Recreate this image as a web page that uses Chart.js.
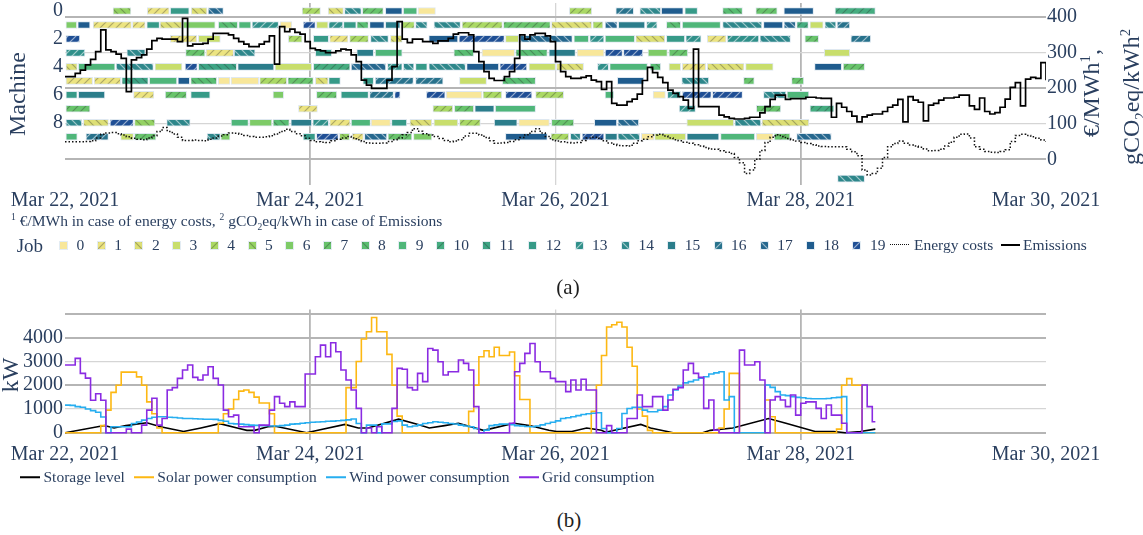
<!DOCTYPE html>
<html>
<head>
<meta charset="utf-8">
<title>Machine schedule, energy costs and power consumption</title>
<script src="https://cdn.jsdelivr.net/npm/chart.js@4.4.1/dist/chart.umd.min.js"></script>
<style>
  html, body { margin: 0; padding: 0; background: #ffffff; }
  body { position: relative; width: 1143px; height: 535px; overflow: hidden;
         font-family: "Liberation Serif", "Times New Roman", serif; color: #2a3f5f; }
  canvas { position: absolute; left: 0; display: block; }
  #chartA { top: 0; }
  #chartB { top: 300px; }
  .t { position: absolute; white-space: nowrap; line-height: 1; }
  .mid { transform: translateY(-50%); }
  .ctr { transform: translate(-50%, -50%); }
  .rot { transform: translate(-50%, -50%) rotate(-90deg); font-size: 24px; }
  sup, sub { font-size: 62%; line-height: 0; }
  .cap { color: #1e1e1e; font-size: 21px; }
  #legendB { position: absolute; left: 20px; top: 477px; transform: translateY(-50%);
             display: flex; align-items: center; font-size: 15.5px; white-space: nowrap; line-height: 1; }
  #legendB .item { display: flex; align-items: center; margin-right: 9px; }
  #legendB .swl { width: 20px; height: 0; border-top: 2px solid; margin-right: 3.5px; }
</style>
</head>
<body>
<canvas id="chartA" width="1143" height="212"></canvas>
<canvas id="chartB" width="1143" height="170"></canvas>

<div class="t rot" style="left:1091px; top:93px;">€/MWh<sup>1</sup>,</div>
<div class="t rot" style="left:1131px; top:97px;">gCO<sub>2</sub>eq/kWh<sup>2</sup></div>
<div class="t mid" style="left:11px; top:221px; font-size:15.5px;"><sup>1</sup> €/MWh in case of energy costs, <sup>2</sup> gCO<sub>2</sub>eq/kWh in case of Emissions</div>
<div id="legendA"></div>
<div class="t ctr cap" style="left:568px; top:287px;">(a)</div>
<div id="legendB"></div>
<div class="t ctr cap" style="left:569px; top:520px;">(b)</div>

<script>
// ---------------- data ----------------
// x values are hours after Mar 22, 2021 00:00
const dayTicks = [0, 48, 96, 144, 192];
const dayLabels = ['Mar 22, 2021', 'Mar 24, 2021', 'Mar 26, 2021', 'Mar 28, 2021', 'Mar 30, 2021'];
const machineTicks = [0, 2, 4, 6, 8];
const priceTicks = [0, 100, 200, 300, 400];
const powerTicks = [0, 1000, 2000, 3000, 4000, 5000];
const jobNames = ['0','1','2','3','4','5','6','7','8','9','10','11','12','13','14','15','16','17','18','19'];
const seriesNames = ['Storage level', 'Solar power consumption', 'Wind power consumption', 'Grid consumption'];

// [machine, job, start hour, end hour]
const schedule = [
  [0,5,9.4,12.9],[0,1,16.1,20.4],[0,12,20.6,24.3],[0,2,24.7,27.8],[0,17,28.0,31.0],[0,4,46.4,50.0],
  [0,2,51.5,54.5],[0,14,54.7,58.0],[0,7,58.2,62.3],[0,18,62.7,66.0],[0,9,66.2,68.9],[0,0,69.1,72.5],
  [0,4,98.7,103.1],[0,16,107.8,111.3],[0,14,112.5,116.6],[0,18,116.7,121.0],[0,12,121.3,123.8],
  [0,8,128.7,132.6],[0,7,135.2,139.4],[0,18,140.7,146.5],[0,10,150.7,158.6],

  [1,6,0,2.3],[1,18,2.5,4.9],[1,1,5.5,13.0],[1,1,13.2,15.7],[1,12,16.0,18.5],[1,2,18.6,22.9],
  [1,6,23.1,29.4],[1,8,30.0,33.8],[1,9,34.0,36.4],[1,13,36.6,41.8],[1,0,42.1,44.4],[1,19,46.6,49.0],
  [1,3,49.2,51.5],[1,13,51.6,54.4],[1,12,54.5,57.0],[1,8,57.1,59.4],[1,18,59.6,62.5],[1,15,62.7,65.6],
  [1,4,65.8,68.4],[1,14,68.6,70.9],[1,14,72.2,77.4],[1,4,77.7,85.6],[1,7,85.8,95.0],[1,2,95.2,103.1],
  [1,4,103.3,105.3],[1,17,105.7,108.1],[1,15,108.3,113.5],[1,13,113.8,115.9],[1,8,117.7,120.5],
  [1,9,120.8,128.3],[1,14,128.7,136.4],[1,18,136.7,140.5],[1,17,140.7,143.0],[1,10,143.2,145.5],
  [1,3,145.8,148.4],[1,14,148.7,150.9],[1,16,151.1,153.6],

  [2,19,0,2.9],[2,1,20.6,25.8],[2,3,26.1,30.4],[2,4,43.7,46.4],[2,12,48.6,51.6],[2,1,51.8,55.4],
  [2,4,55.7,59.4],[2,14,59.8,63.3],[2,2,63.7,66.0],[2,18,71.2,76.9],[2,19,77.1,86.0],[2,3,86.2,88.8],
  [2,17,89.0,99.3],[2,9,99.6,102.5],[2,13,102.7,105.5],[2,9,105.7,111.5],[2,2,111.7,117.4],
  [2,12,117.7,121.3],[2,13,121.5,124.5],[2,1,125.7,129.4],[2,13,129.6,135.8],[2,14,136.0,142.0],
  [2,7,144.8,147.5],[2,16,153.8,157.7],

  [3,13,0,3.9],[3,14,12.1,15.7],[3,7,23.6,27.4],[3,1,27.6,33.0],[3,14,33.1,37.2],[3,12,49.0,52.2],
  [3,15,57.1,60.4],[3,9,60.7,66.0],[3,8,76.1,80.0],[3,0,81.6,88.0],[3,8,88.2,94.4],[3,15,94.7,99.9],
  [3,0,100.2,105.5],[3,19,105.7,109.1],[3,19,109.3,113.1],[3,6,114.1,117.9],[3,7,118.2,121.9],
  [3,3,148.6,153.6],

  [4,2,0,2.4],[4,9,2.6,9.8],[4,14,10.0,17.3],[4,3,17.6,22.9],[4,19,23.5,25.9],[4,11,26.1,33.6],
  [4,15,33.8,40.9],[4,3,41.1,48.3],[4,10,48.6,55.8],[4,17,56.0,62.8],[4,13,63.1,66.0],[4,14,66.2,68.3],
  [4,12,68.6,70.9],[4,14,71.2,78.4],[4,18,78.6,84.9],[4,19,85.1,90.4],[4,3,90.8,96.0],[4,2,96.2,101.5],
  [4,13,104.2,106.4],[4,9,106.6,114.0],[4,8,114.5,116.6],[4,3,118.2,120.5],[4,1,120.8,125.4],
  [4,2,125.7,132.9],[4,3,133.2,138.6],[4,18,146.7,152.0],[4,7,152.3,156.5],

  [5,1,0,5.4],[5,1,5.7,10.9],[5,11,11.1,16.3],[5,9,16.5,21.9],[5,18,22.1,24.4],[5,8,24.6,29.7],
  [5,0,30.0,32.3],[5,0,32.5,37.9],[5,4,38.1,43.4],[5,7,43.6,48.6],[5,2,49.0,51.5],[5,12,51.6,53.9],
  [5,12,58.3,60.4],[5,16,60.7,68.2],[5,16,68.6,74.0],[5,3,77.2,82.5],[5,8,85.6,92.1],[5,18,108.1,113.3],
  [5,14,120.7,126.0],[5,7,132.8,134.9],[5,7,142.2,144.6],

  [6,12,0,2.4],[6,15,2.6,7.8],[6,1,13.4,17.4],[6,7,19.6,23.8],[6,12,24.6,28.4],[6,6,40.7,42.8],
  [6,7,49.2,53.2],[6,12,54.0,59.4],[6,16,59.6,64.3],[6,19,64.5,65.6],[6,19,70.7,74.4],[6,0,74.6,81.6],
  [6,4,81.8,85.5],[6,19,86.2,91.4],[6,4,92.1,97.6],[6,9,105.7,107.4],[6,0,115.1,117.5],[6,13,117.9,120.5],
  [6,19,120.8,126.5],[6,19,126.7,132.6],[6,14,136.7,141.1],[6,9,141.3,145.6],

  [7,7,0,4.9],[7,1,45.7,49.4],[7,4,72.0,75.9],[7,7,76.2,80.0],[7,15,80.2,84.0],[7,9,84.2,92.1],
  [7,13,120.2,123.4],[7,7,135.3,140.1],[7,10,145.8,150.5],

  [8,14,0,3.3],[8,2,3.6,8.5],[8,19,8.8,13.4],[8,5,13.6,17.6],[8,14,19.9,24.5],[8,9,32.5,35.9],
  [8,6,36.1,40.5],[8,8,40.7,43.9],[8,15,44.2,48.3],[8,13,48.5,51.6],[8,1,51.8,55.8],[8,9,56.0,59.8],
  [8,0,59.9,63.7],[8,12,63.9,66.9],[8,2,67.5,71.8],[8,3,72.2,76.9],[8,4,77.2,81.3],[8,15,84.0,88.5],
  [8,0,88.8,94.8],[8,7,95.2,99.6],[8,18,103.6,108.0],[8,17,108.2,112.3],[8,3,121.7,130.9],
  [8,14,131.1,136.2],[8,2,136.4,145.6],

  [9,9,0,2.4],[9,16,4.1,8.5],[9,3,10.9,13.4],[9,7,13.6,17.8],[9,14,27.8,30.4],[9,6,30.5,32.3],
  [9,12,46.6,49.0],[9,19,49.2,53.5],[9,5,53.7,55.7],[9,1,56.2,58.4],[9,17,58.6,63.0],[9,7,63.2,67.9],
  [9,6,68.2,71.8],[9,18,86.2,94.4],[9,4,95.1,98.6],[9,14,98.9,100.9],[9,19,101.2,105.5],
  [9,15,105.7,108.1],[9,14,108.2,112.5],[9,0,112.8,115.3],[9,3,115.4,121.5],[9,15,121.7,128.0],
  [9,9,128.3,135.0],[9,0,135.3,138.6],[9,7,138.8,141.9],[9,17,143.2,150.0],

  [12,14,151.2,156.5]
];

// hourly emission factor, gCO2eq/kWh (hour 0 .. 192)
const emissions = [
  232,232,241,250,265,280,302,363,307,302, 295,283,190,279,285,293,309,333,339,337,
  337,337,330,395,318,323,323,325,337,353, 353,353,349,339,330,323,316,316,323,330,
  346,267,372,358,365,356,351,330,311,307, 304,299,299,304,309,307,293,274,222,208,
  199,199,199,222,260,386,337,327,337,337, 330,330,325,332,332,339,351,355,355,349,
  302,274,246,227,221,221,232,246,283,349, 337,349,353,353,346,330,274,246,232,227,
  227,230,234,222,218,196,218,157,152,152, 162,169,183,221,258,243,230,215,194,185,
  176,166,143,309,148,148,148,148,124,119, 115,113,113,115,118,118,130,148,168,180,
  180,168,170,170,170,174,174,172,171,171, 118,157,146,134,121,105,119,124,127,127,
  134,146,152,168,105,176,166,160,108,152, 157,166,172,172,174,180,180,150,140,172,
  134,127,131,146,169,202,215,150,225,230, 227,271,222
];

// hourly energy costs, €/MWh (hour 0 .. 192)
const energyCosts = [
  49,49,49,49,50,52,60,70,74,75, 72,68,63,59,56,55,60,66,78,89,
  78,71,62,53,53,54,53,52,56,60, 65,69,74,73,70,67,64,62,62,63,
  66,71,78,84,78,72,66,59,53,49, 48,47,52,56,60,64,60,55,50,46,
  45,45,46,50,55,60,69,75,86,79, 72,68,64,58,53,49,51,55,65,73,
  73,68,61,52,45,46,47,50,55,61, 69,78,86,74,64,55,51,49,47,46,
  47,53,60,62,59,52,46,42,39,38, 37,45,52,56,63,68,70,65,60,55,
  52,48,45,41,37,33,29,28,24,20, 16,5,-10,-40,-30,0,25,47,62,69,
  64,58,54,51,47,44,41,37,36,35, 35,35,35,28,21,10,-30,-44,-40,-25,
  5,35,44,51,45,40,37,34,29,24, 25,28,37,48,62,70,71,60,35,28,
  22,20,19,22,27,50,67,70,67,63, 59,54,49
];

// storage level, kW (breakpoints)
const storageHours = [0,7.7,9.6,11.9,16,18.7,23.2,26.6,30.3,33.7,35.6,37.1,39.7,41.2,47.3,49.5,54.8,57.4,
  59.3,65.3,69.1,71.3,74.3,77,81.9,83,87.9,90.9,94.7,96.2,99.2,102.1,105,105.8,112.7,114.6,119,124.8,
  126.3,130.7,137.7,141.1,146.8,150.5,152.7,155.7,158.6];
const storageLevel = [0,300,200,300,420,250,50,200,380,200,100,100,250,270,0,100,350,200,
  200,570,350,200,300,400,100,150,400,300,100,50,50,200,100,20,350,200,0,0,
  100,200,600,400,50,50,0,50,150];

// hourly consumption, kW (hour 0 .. 158)
const solarPower = [
  0,0,0,0,0,0,0,300,950,1700, 2000,2550,2550,2550,2350,2000,1300,800,200,0,
  0,0,0,0,0,0,0,0,0,0, 400,800,1000,1400,1750,1800,1700,1500,1250,1250,
  800,0,0,0,0,0,0,0,0,0, 0,0,0,0,0,1900,1900,3000,3950,4250,
  4850,4250,4250,3300,2000,700,0,0,0,0, 0,0,0,0,0,0,0,0,0,900,
  2000,3200,3450,3200,3600,3250,3250,3400,2400,1400, 1400,0,0,0,0,0,0,0,0,0,
  0,0,0,900,2000,3250,4450,4550,4650,4450, 3600,2800,1000,700,100,0,0,0,0,0,
  0,0,0,0,0,0,0,0,200,1000, 2500,2500,0,0,0,0,0,1380,670,0,
  0,0,0,0,0,0,0,0,0,0, 0,150,2000,2280,2000,2000,0,0,0
];
const windPower = [
  1160,1150,1100,1070,1000,930,860,660,0,250, 250,250,250,390,450,530,600,650,670,670,
  650,640,620,600,600,590,575,570,565,560, 520,480,390,370,360,340,320,310,300,290,
  280,280,300,320,360,370,400,420,440,450, 460,480,490,505,520,540,575,390,0,320,
  320,0,370,370,470,500,320,250,280,330, 390,420,460,440,420,390,365,320,280,250,
  180,0,110,300,330,360,365,340,300,280, 260,250,280,330,390,440,500,600,630,670,
  720,770,800,820,840,180,0,0,180,810, 1020,1070,1070,950,880,880,950,1100,1590,1800,
  1970,2100,2150,2220,2300,2360,2470,2520,2570,1380, 1520,0,0,0,0,0,0,2010,1910,1730,
  1590,1560,1520,1490,1470,1440,1430,1430,1430,1440, 1470,1490,1520,0,0,0,0,0,0
];
const gridPower = [
  2850,2850,3130,2500,2300,1370,1640,1370,0,0, 0,0,150,0,0,320,950,1450,320,600,
  1800,1900,2290,2640,2850,2330,2220,2430,2780,2290, 2010,950,670,740,250,250,250,0,320,320,
  950,1520,1240,1100,1300,1100,1100,2470,2470,3200, 3690,3200,3790,3410,2640,2220,1800,1025,0,200,
  0,250,0,0,1025,2710,2670,1900,1800,2500, 2150,3550,3480,2990,2430,2570,2570,3060,2920,2640,
  1100,0,0,0,0,0,0,400,2570,2920, 3340,3760,2990,2570,2570,2290,2150,2150,1730,2220,
  1800,2250,1800,1800,0,0,300,0,0,0, 600,600,1590,1100,1100,1520,1520,950,1380,1830,
  1900,2640,2920,2500,2330,1025,1380,110,0,0, 0,0,3480,2850,2850,2990,2220,0,1380,1520,
  1380,1100,1590,740,1240,1300,1300,1025,600,1170, 740,740,400,0,0,0,2010,1100,460
];
const powerEnd = 158.6;

// ---------------- styles ----------------
const FONT = '"Liberation Serif", "Times New Roman", serif';
const INK = '#2a3f5f';
const GRID_DARK = '#b5b5b5';
const GRID_LIGHT = '#d5d5d5';
const jobColors = ['#f8e79a','#ece481','#dddf75','#c8de6c','#aad965','#94d263','#7ecb67','#68c46c',
  '#58bd72','#4fb67a','#45ad80','#3da485','#369a88','#30908a','#2e878b','#2b7d8b','#28728c','#25678e',
  '#1f5c8e','#1f4f95'];
const jobHatch = ['', '/', '\\'];  // cycles through the job ids
const seriesColors = ['#000000', '#fdb813', '#27aef0', '#8a2be2'];

function hatchTile(color, hatch, light, size) {
  const c = document.createElement('canvas');
  c.width = size; c.height = size;
  const g = c.getContext('2d');
  g.fillStyle = color;
  g.fillRect(0, 0, size, size);
  if (hatch) {
    g.strokeStyle = light ? 'rgba(255,255,255,0.55)' : 'rgba(40,40,40,0.32)';
    g.lineWidth = 1.2;
    g.beginPath();
    const s = size;
    if (hatch === '/') {
      g.moveTo(-2, s + 2); g.lineTo(s + 2, -2);
      g.moveTo(-2, 2); g.lineTo(2, -2);
      g.moveTo(s - 2, s + 2); g.lineTo(s + 2, s - 2);
    } else {
      g.moveTo(-2, -2); g.lineTo(s + 2, s + 2);
      g.moveTo(-2, s - 2); g.lineTo(2, s + 2);
      g.moveTo(s - 2, -2); g.lineTo(s + 2, 2);
    }
    g.stroke();
  }
  return c;
}

const ctxA = document.getElementById('chartA').getContext('2d');
const jobFills = jobColors.map((col, j) => {
  const h = jobHatch[j % 3];
  return h ? ctxA.createPattern(hatchTile(col, h, j >= 12, 8), 'repeat') : col;
});

const tickFont = { family: FONT, size: 20 };
const edge = v => v === dayTicks[0] || v === dayTicks[dayTicks.length - 1];
// fixed axis boxes so the plot areas line up; label overhang is not reserved
const fixSize = (w, h) => s => {
  if (w !== null) s.width = w;
  if (h !== null) s.height = h;
  s.paddingLeft = 0; s.paddingRight = 0; s.paddingTop = 0; s.paddingBottom = 0;
};

function timeAxis(height, pad) {
  return {
    type: 'linear', position: 'bottom', min: dayTicks[0], max: dayTicks[dayTicks.length - 1], offset: false,
    afterBuildTicks: s => { s.ticks = dayTicks.map(v => ({ value: v })); },
    afterFit: fixSize(null, height),
    ticks: { autoSkip: false, maxRotation: 0, padding: pad, color: INK, font: tickFont,
             callback: v => dayLabels[dayTicks.indexOf(v)] },
    grid: { offset: false, drawTicks: false,
            color: c => edge(c.tick.value) ? 'rgba(0,0,0,0)' : (c.tick.value === 96 ? GRID_LIGHT : GRID_DARK),
            lineWidth: c => c.tick.value === 96 ? 1.3 : 1.8 },
    border: { display: false }
  };
}

// ---------------- chart (a): schedule with costs / emissions ----------------
const hourly = arr => arr.map((v, i) => ({ x: i, y: v }));

const barSets = jobNames.map((name, j) => ({
  type: 'bar', label: 'Job ' + name, indexAxis: 'y', xAxisID: 'x', yAxisID: 'yM',
  data: schedule.filter(r => r[1] === j).map(r => ({ x: [r[2], r[3]], y: r[0] })),
  backgroundColor: jobFills[j], borderColor: '#dfe8f0', borderWidth: 1, borderSkipped: false,
  barThickness: 7, grouped: false, order: 2
}));

new Chart(ctxA, {
  type: 'line',
  data: {
    datasets: [
      { type: 'line', label: 'Emissions', data: hourly(emissions), xAxisID: 'x', yAxisID: 'yR',
        stepped: true, borderColor: '#000', borderWidth: 1.7, pointRadius: 0, fill: false, order: 0 },
      { type: 'line', label: 'Energy costs', data: hourly(energyCosts), xAxisID: 'x', yAxisID: 'yR',
        stepped: true, borderColor: '#111', borderWidth: 1.5, borderDash: [1.5, 2], pointRadius: 0, fill: false, order: 1 },
      ...barSets
    ]
  },
  options: {
    responsive: false, animation: false, devicePixelRatio: 1, events: [],
    layout: { padding: { top: 3, left: 0, right: 0, bottom: 0 } },
    plugins: { legend: { display: false }, tooltip: { enabled: false } },
    scales: {
      x: timeAxis(27, 4),
      yM: {
        type: 'linear', position: 'left', reverse: true, min: -0.573, max: 12.455, offset: false,
        afterBuildTicks: s => { s.ticks = machineTicks.map(v => ({ value: v })); },
        afterFit: fixSize(65, null),
        ticks: { autoSkip: false, padding: 2, color: INK, font: tickFont, callback: v => String(v) },
        grid: { display: false, drawTicks: false, offset: false }, border: { display: false },
        title: { display: true, text: 'Machine', color: INK, font: { family: FONT, size: 24, lineHeight: 1 },
                 padding: { top: 7, bottom: 0 } }
      },
      yR: {
        type: 'linear', position: 'right', min: -72.1, max: 438.4, offset: false,
        afterBuildTicks: s => { s.ticks = priceTicks.map(v => ({ value: v })); },
        afterFit: fixSize(97, null),
        ticks: { autoSkip: false, padding: 1, color: INK, font: tickFont, callback: v => String(v) },
        grid: { drawTicks: false, offset: false,
                color: c => (c.tick.value % 200 === 0) ? GRID_DARK : GRID_LIGHT,
                lineWidth: c => (c.tick.value % 200 === 0) ? 2 : 1.3 },
        border: { display: false }
      }
    }
  }
});

// ---------------- chart (b): power flows ----------------
const steppedSeries = arr => hourly(arr).concat([{ x: powerEnd, y: arr[arr.length - 1] }]);

new Chart(document.getElementById('chartB').getContext('2d'), {
  type: 'line',
  data: {
    datasets: [
      { label: seriesNames[0], data: storageHours.map((h, i) => ({ x: h, y: storageLevel[i] })),
        borderColor: seriesColors[0], borderWidth: 1.6, pointRadius: 0, fill: false, order: 3 },
      { label: seriesNames[1], data: steppedSeries(solarPower), stepped: true,
        borderColor: seriesColors[1], borderWidth: 1.6, pointRadius: 0, fill: false, order: 2 },
      { label: seriesNames[2], data: steppedSeries(windPower), stepped: true,
        borderColor: seriesColors[2], borderWidth: 1.6, pointRadius: 0, fill: false, order: 1 },
      { label: seriesNames[3], data: steppedSeries(gridPower), stepped: true,
        borderColor: seriesColors[3], borderWidth: 1.6, pointRadius: 0, fill: false, order: 0 }
    ]
  },
  options: {
    responsive: false, animation: false, devicePixelRatio: 1, events: [],
    layout: { padding: { top: 9.4, left: 0, right: 97, bottom: 0 } },
    plugins: { legend: { display: false }, tooltip: { enabled: false } },
    scales: {
      x: timeAxis(29.6, 2),
      y: {
        type: 'linear', position: 'left', min: -324, max: 5194, offset: false,
        afterBuildTicks: s => { s.ticks = powerTicks.map(v => ({ value: v })); },
        afterFit: fixSize(65, null),
        ticks: { autoSkip: false, padding: 2, color: INK, font: tickFont, callback: v => (v === 5000 ? '' : String(v)) },
        grid: { drawTicks: false, offset: false,
                color: c => (c.tick.value === 3000 || c.tick.value === 1000) ? GRID_LIGHT : GRID_DARK,
                lineWidth: c => (c.tick.value === 3000 || c.tick.value === 1000) ? 1.3 : 2 },
        border: { display: false },
        title: { display: true, text: 'kW', color: INK, font: { family: FONT, size: 24, lineHeight: 1 },
                 padding: { top: 0, bottom: 0 } }
      }
    }
  }
});

// ---------------- legends ----------------
function addText(parent, txt, x, y, size) {
  const d = document.createElement('div');
  d.className = 't mid';
  d.style.left = x + 'px'; d.style.top = y + 'px'; d.style.fontSize = size + 'px';
  d.textContent = txt;
  parent.appendChild(d);
}
function addLine(parent, x0, x1, y, color, style, width) {
  const d = document.createElement('div');
  d.style.position = 'absolute';
  d.style.left = x0 + 'px'; d.style.width = (x1 - x0) + 'px';
  d.style.top = (y - width / 2) + 'px'; d.style.height = '0';
  d.style.borderTop = width + 'px ' + style + ' ' + color;
  parent.appendChild(d);
}

const legA = document.getElementById('legendA');
const legAY = 245;
addText(legA, 'Job', 16.7, legAY, 19);
jobNames.forEach((name, j) => {
  const x = j <= 10 ? 60 + 37.7 * j : 436.7 + 46.3 * (j - 10);
  const sw = hatchTile(jobColors[j], jobHatch[j % 3], j >= 12, 7);
  sw.style.position = 'absolute';
  sw.style.left = x + 'px'; sw.style.top = (legAY - 3.5) + 'px';
  sw.style.outline = '1px solid #e3ecf3';
  legA.appendChild(sw);
  addText(legA, name, x + 16.5, legAY, 15.5);
});
addLine(legA, 889.5, 908.6, legAY, '#111', 'dotted', 1.5);
addText(legA, 'Energy costs', 914, legAY, 15.5);
addLine(legA, 1000.6, 1019.6, legAY, '#000', 'solid', 2);
addText(legA, 'Emissions', 1023, legAY, 15.5);

const legB = document.getElementById('legendB');
seriesNames.forEach((name, i) => {
  const item = document.createElement('div');
  item.className = 'item';
  const ln = document.createElement('div');
  ln.className = 'swl';
  ln.style.borderTopColor = seriesColors[i];
  const tx = document.createElement('span');
  tx.textContent = name;
  item.appendChild(ln); item.appendChild(tx);
  legB.appendChild(item);
});
</script>
</body>
</html>
